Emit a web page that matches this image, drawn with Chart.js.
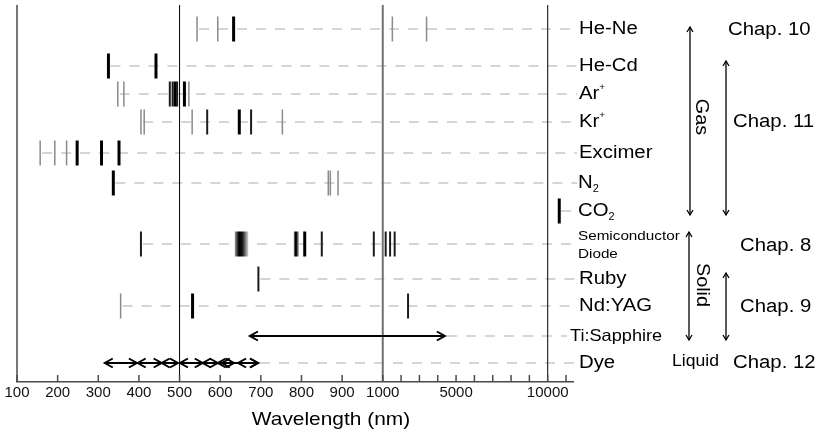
<!DOCTYPE html>
<html>
<head>
<meta charset="utf-8">
<script src="https://cdn.jsdelivr.net/npm/chart.js@4.4.1/dist/chart.umd.min.js"></script>
<style>
  html, body { margin: 0; padding: 0; background: #fff; }
  #wrap { width: 820px; height: 434px; }
</style>
</head>
<body>
<div id="wrap"><canvas id="laserChart" width="820" height="434"></canvas></div>
<script>
// rows, top to bottom
const rowNames = ['He-Ne', 'He-Cd', 'Ar+', 'Kr+', 'Excimer', 'N2', 'CO2',
  'Semiconductor Diode', 'Ruby', 'Nd:YAG', 'Ti:Sapphire', 'Dye'];
// row position on the (hidden) vertical scale
const rowPos = [24, 61, 89, 117, 148, 178, 206, 239, 274, 301, 331, 358];

// lasing lines in nm, with strength 1 = weak, 2 = medium, 3 = strong
const heNeNm   = [543, 594, 633, 1523, 3391];
const heNeLvl  = [1, 1, 3, 1, 1];
const heCdNm   = [325, 442];
const heCdLvl  = [3, 3];
const arNm     = [348, 363, 476, 483, 489, 494, 512, 523];
const arLvl    = [1, 1, 2, 2, 3, 2, 3, 1];
const krNm     = [405, 413, 531, 568, 647, 676, 753];
const krLvl    = [1, 1, 1, 2, 3, 2, 1];
const excNm    = [157, 193, 222, 248, 308, 351];
const excLvl   = [1, 1, 1, 3, 3, 3];
const n2Nm     = [337, 866, 871, 890];
const n2Lvl    = [3, 1, 1, 1];
const co2Nm    = [10630];
const co2Lvl   = [3];
const semiNm   = [405, 808, 850, 978, 1160, 1400, 1650];
const semiLvl  = [2, 3, 2, 2, 2, 2, 2];
const semiBandStart = [636, 781];
const semiBandEnd   = [669, 794];
const rubyNm   = [694];
const rubyLvl  = [2];
const yagNm    = [355, 532, 2380];
const yagLvl   = [1, 3, 2];
// tunable ranges (nm)
const tiStart  = [673];
const tiEnd    = [4390];
const dyeStart = [316, 397, 456, 501, 557, 594, 604, 644];
const dyeEnd   = [395, 456, 496, 557, 594, 634, 693, 693];

// axis ticks
const xTickNm    = [100, 200, 300, 400, 500, 600, 700, 800, 900, 1000,
  2000, 3000, 4000, 5000, 6000, 7000, 8000, 9000, 10000, 11000];
const xTickShown = [100, 200, 300, 400, 500, 600, 700, 800, 900, 1000, 5000, 10000];
const refLinesNm = [500, 1000, 10000];

// wavelength axis: linear up to 1000 nm, compressed above
const BREAK = 1000, IR_SCALE = 0.0451;
function pos(nm) { return nm <= BREAK ? nm : BREAK + (nm - BREAK) * IR_SCALE; }
function nmOf(p) { return p <= BREAK ? p : BREAK + (p - BREAK) / IR_SCALE; }

const lineRows = [
  [heNeNm, heNeLvl], [heCdNm, heCdLvl], [arNm, arLvl], [krNm, krLvl],
  [excNm, excLvl], [n2Nm, n2Lvl], [co2Nm, co2Lvl], [semiNm, semiLvl],
  [rubyNm, rubyLvl], [yagNm, yagLvl], null, null
];

const levelStyle = [
  {color: '#8a8a8a', width: 1.5},
  {color: '#1c1c1c', width: 2},
  {color: '#000000', width: 3}
];

const FONT = '"Liberation Sans", Arial, sans-serif';
Chart.defaults.font.family = FONT;

const datasets = levelStyle.map((st) => ({
  data: [],
  pointStyle: 'line',
  rotation: 90,
  radius: 12.5,
  hoverRadius: 12.5,
  borderWidth: st.width,
  borderColor: st.color,
  backgroundColor: st.color
}));
lineRows.forEach((row, r) => {
  if (!row) return;
  row[0].forEach((nm, i) => {
    datasets[row[1][i] - 1].data.push({x: pos(nm), y: rowPos[r]});
  });
});

function sText(ctx, str, x, y, size, sx, align) {
  ctx.save();
  ctx.font = size + 'px ' + FONT;
  ctx.translate(x, y);
  ctx.scale(sx, 1);
  ctx.textAlign = align || 'left';
  ctx.textBaseline = 'middle';
  ctx.fillStyle = '#000';
  ctx.fillText(str, 0, 0);
  const w = ctx.measureText(str).width * sx;
  ctx.restore();
  return w;
}

function arrowHead(ctx, x, y, dir, len, half) {
  ctx.beginPath();
  ctx.moveTo(x + dir * len, y - half);
  ctx.lineTo(x, y);
  ctx.lineTo(x + dir * len, y + half);
  ctx.stroke();
}

function vArrow(ctx, x, y0, y1) {
  ctx.save();
  ctx.strokeStyle = '#000';
  ctx.lineWidth = 1.3;
  ctx.beginPath();
  ctx.moveTo(x, y0); ctx.lineTo(x, y1); ctx.stroke();
  ctx.beginPath();
  ctx.moveTo(x - 3, y0 + 5); ctx.lineTo(x, y0); ctx.lineTo(x + 3, y0 + 5);
  ctx.moveTo(x - 3, y1 - 5); ctx.lineTo(x, y1); ctx.lineTo(x + 3, y1 - 5);
  ctx.stroke();
  ctx.restore();
}

function rangeArrow(ctx, xs, x0, x1, yPix) {
  const a = xs.getPixelForValue(pos(x0)), b = xs.getPixelForValue(pos(x1));
  ctx.beginPath();
  ctx.moveTo(a, yPix); ctx.lineTo(b, yPix); ctx.stroke();
  arrowHead(ctx, a, yPix, 1, 8, 4.5);
  arrowHead(ctx, b, yPix, -1, 8, 4.5);
}

const decor = {
  id: 'decor',
  beforeDatasetsDraw(chart) {
    const {ctx, chartArea, scales: {x, y}} = chart;
    ctx.save();
    // guide dashes for each row
    ctx.strokeStyle = '#c8c8c8';
    ctx.lineWidth = 1.5;
    ctx.setLineDash([10, 9]);
    rowNames.forEach((name, r) => {
      let startNm;
      if (lineRows[r]) startNm = Math.min(...lineRows[r][0]);
      else if (name === 'Ti:Sapphire') startNm = Math.max(...tiEnd);
      else startNm = Math.max(...dyeEnd);
      const x0 = x.getPixelForValue(pos(startNm));
      const x1 = name === 'Ti:Sapphire' ? chartArea.right - 6 : chartArea.right + 4;
      const yp = y.getPixelForValue(rowPos[r]);
      ctx.beginPath();
      ctx.moveTo(x0 + 2, yp); ctx.lineTo(x1, yp); ctx.stroke();
    });
    ctx.setLineDash([]);
    // left axis line
    ctx.strokeStyle = '#4a4a4a';
    ctx.lineWidth = 1.5;
    ctx.beginPath();
    ctx.moveTo(chartArea.left, chartArea.top); ctx.lineTo(chartArea.left, chartArea.bottom);
    ctx.stroke();
    // reference lines
    refLinesNm.forEach((nm) => {
      const xp = x.getPixelForValue(pos(nm));
      ctx.strokeStyle = nm === 1000 ? '#707070' : '#000';
      ctx.lineWidth = nm === 1000 ? 2 : 1;
      ctx.beginPath();
      ctx.moveTo(xp, chartArea.top); ctx.lineTo(xp, chartArea.bottom);
      ctx.stroke();
    });
    ctx.restore();
  },
  afterDatasetsDraw(chart) {
    const {ctx, chartArea, scales: {x, y}} = chart;
    ctx.save();
    // semiconductor bands
    const ys = y.getPixelForValue(rowPos[7]);
    semiBandStart.forEach((s, i) => {
      const a = x.getPixelForValue(pos(s)), b = x.getPixelForValue(pos(semiBandEnd[i]));
      const g = ctx.createLinearGradient(a, 0, b, 0);
      g.addColorStop(0, '#9a9a9a');
      g.addColorStop(0.3, '#000');
      g.addColorStop(0.55, '#111');
      g.addColorStop(1, '#d0d0d0');
      ctx.fillStyle = g;
      ctx.fillRect(a, ys - 12.5, b - a, 25);
    });
    // tunable ranges
    ctx.strokeStyle = '#000';
    ctx.lineWidth = 2;
    const yt = y.getPixelForValue(rowPos[10]);
    tiStart.forEach((s, i) => rangeArrow(ctx, x, s, tiEnd[i], yt));
    const yd = y.getPixelForValue(rowPos[11]);
    dyeStart.forEach((s, i) => rangeArrow(ctx, x, s, dyeEnd[i], yd));
    // tick marks, pointing into the plot
    ctx.strokeStyle = '#4a4a4a';
    ctx.lineWidth = 1.5;
    xTickNm.forEach((nm) => {
      const xp = x.getPixelForValue(pos(nm));
      ctx.beginPath();
      ctx.moveTo(xp, chartArea.bottom); ctx.lineTo(xp, chartArea.bottom - 7);
      ctx.stroke();
    });
    ctx.restore();
  },
  afterDraw(chart) {
    const {ctx, chartArea, scales: {y}} = chart;
    const lx = chartArea.right + 6;
    rowNames.forEach((name, r) => {
      const yp = y.getPixelForValue(rowPos[r]);
      if (name === 'Semiconductor Diode') {
        sText(ctx, 'Semiconductor', lx - 1, yp - 8, 13.5, 1.13);
        sText(ctx, 'Diode', lx - 1, yp + 10, 13.5, 1.13);
      } else if (name === 'Ti:Sapphire') {
        sText(ctx, name, lx - 9, yp, 16.5, 1.1);
      } else if (name.endsWith('+')) {
        const w = sText(ctx, name.slice(0, -1), lx, yp, 18, 1.13);
        sText(ctx, '+', lx + w, yp - 6, 9, 1.1);
      } else if (name.endsWith('2')) {
        const w = sText(ctx, name.slice(0, -1), lx - 1, yp, 18, 1.13);
        sText(ctx, '2', lx - 1 + w, yp + 6, 10, 1.1);
      } else {
        sText(ctx, name, lx, yp, 18, 1.13);
      }
    });
    // state of matter / chapter annotations
    vArrow(ctx, 690, 27, 215);
    vArrow(ctx, 726, 61, 215);
    vArrow(ctx, 689, 232, 340);
    vArrow(ctx, 726, 273, 340);
    [['Gas', 701, 117], ['Solid', 702, 285]].forEach(([t, tx, ty]) => {
      ctx.save();
      ctx.translate(tx, ty);
      ctx.rotate(Math.PI / 2);
      sText(ctx, t, 0, 0, 18, 1.1, 'center');
      ctx.restore();
    });
    sText(ctx, 'Chap. 10', 728, 30, 18, 1.13);
    sText(ctx, 'Chap. 11', 733, 122, 18, 1.13);
    sText(ctx, 'Chap. 8', 740, 246, 18, 1.13);
    sText(ctx, 'Chap. 9', 740, 307, 18, 1.13);
    sText(ctx, 'Liquid', 672, 362, 16, 1.1);
    sText(ctx, 'Chap. 12', 733, 363, 18, 1.13);
    // axis title
    sText(ctx, 'Wavelength (nm)', 331, 420, 19, 1.1, 'center');
  }
};

new Chart(document.getElementById('laserChart').getContext('2d'), {
  type: 'scatter',
  data: {datasets: datasets},
  options: {
    responsive: false,
    devicePixelRatio: 1,
    animation: false,
    events: [],
    layout: {autoPadding: false, padding: {left: 17, right: 247, top: 5, bottom: 30}},
    plugins: {legend: {display: false}, tooltip: {enabled: false}},
    scales: {
      x: {
        type: 'linear',
        min: pos(100),
        max: pos(11380),
        afterBuildTicks: (scale) => {
          scale.ticks = xTickNm.map((v) => ({value: pos(v)}));
        },
        grid: {display: false, drawTicks: false},
        border: {display: true, color: '#4a4a4a', width: 1.5},
        ticks: {
          autoSkip: false,
          maxRotation: 0,
          padding: 2,
          color: '#111',
          font: {size: 15},
          callback: (v) => {
            const nm = Math.round(nmOf(v));
            return xTickShown.includes(nm) ? String(nm) : '';
          }
        }
      },
      y: {
        display: false,
        min: 0,
        max: 377,
        reverse: true
      }
    }
  },
  plugins: [decor]
});
</script>
</body>
</html>
